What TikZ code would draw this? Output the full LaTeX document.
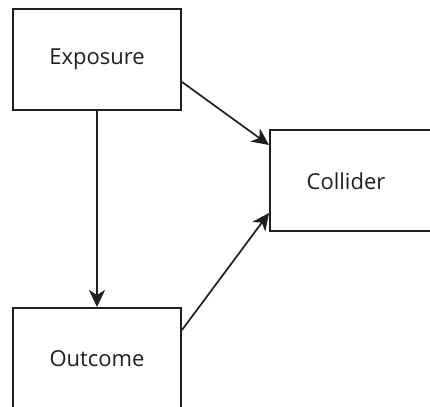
\documentclass[tikz,border=0pt]{standalone}
\usepackage{fontspec}
\setmainfont{Open Sans}
\usetikzlibrary{arrows.meta}
\begin{document}
\begin{tikzpicture}[x=1pt,y=1pt,
  box/.style={draw=black!88, line width=2pt, rectangle, minimum width=168pt, minimum height=101pt, inner sep=0pt},
  label/.style={font=\fontsize{22}{26}\selectfont, text=black!88},
  edge/.style={draw=black!88, line width=1.7pt, -{Stealth[length=17pt,width=16pt,inset=5pt]}}]
\useasboundingbox (0,0) rectangle (430,406);
% boxes (pixel grid, y measured upward)
\node[box] (exposure) at (97,346.5) {};
\node[box, minimum width=172pt] (collider) at (356,225) {};
\node[box] (outcome) at (97,47.5) {};
% labels
\node[label] at (exposure.center) {Exposure};
\node[label] at (346,225) {Collider};
\node[label] at (outcome.center) {Outcome};
% arrows
\draw[edge] (exposure.south) -- (outcome.north);
\draw[edge] ([yshift=-22.5pt]exposure.east) -- ([yshift=36pt]collider.west);
\draw[edge] ([yshift=28.5pt]outcome.east) -- ([yshift=-32pt]collider.west);
\end{tikzpicture}
\end{document}
